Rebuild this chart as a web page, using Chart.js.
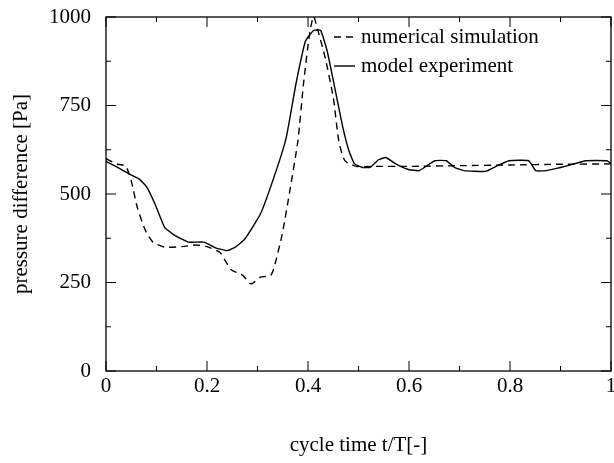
<!DOCTYPE html>
<html>
<head>
<meta charset="utf-8">
<script src="https://cdn.jsdelivr.net/npm/chart.js@4/dist/chart.umd.min.js"></script>
<style>
  body { margin: 0; background: #fff; }
  canvas { display: block; }
</style>
</head>
<body>
<canvas id="pressureChart" width="614" height="463"></canvas>
<script>
// numerical simulation (dashed)
const simTime = [0, 0.023, 0.039, 0.05, 0.062, 0.078, 0.093, 0.116, 0.155, 0.178, 0.198, 0.225, 0.236, 0.248,
  0.271, 0.287, 0.306, 0.326, 0.333, 0.349, 0.364, 0.38, 0.391, 0.403, 0.411, 0.42, 0.434, 0.45, 0.461,
  0.473, 0.496, 0.527, 0.6, 0.7, 0.8, 0.9, 1.0];
const simPressure = [600, 584, 579, 537, 462, 397, 364, 350, 352, 356, 352, 336, 312, 286,
  270, 246, 265, 270, 293, 387, 509, 650, 810, 951, 1002, 960, 885, 773, 650,
  594, 578, 578, 578, 580, 582, 584, 585];

// model experiment (solid)
const expTime = [0, 0.023, 0.047, 0.066, 0.081, 0.097, 0.116, 0.136, 0.163, 0.194, 0.217, 0.24, 0.256, 0.275,
  0.306, 0.337, 0.357, 0.376, 0.395, 0.411, 0.425, 0.438, 0.453, 0.469, 0.481, 0.492, 0.508, 0.523,
  0.539, 0.554, 0.574, 0.597, 0.62, 0.651, 0.674, 0.69, 0.709, 0.752, 0.775, 0.798, 0.837, 0.851,
  0.872, 0.915, 0.95, 0.992, 1.0];
const expPressure = [592, 575, 556, 542, 519, 472, 406, 383, 364, 364, 348, 340, 350, 373,
  444, 566, 660, 810, 932, 962, 962, 904, 800, 688, 622, 585, 575, 575,
  596, 603, 585, 570, 566, 594, 594, 575, 566, 564, 580, 594, 594, 566,
  566, 580, 594, 594, 586];

const xTickValues = [0, 0.2, 0.4, 0.6, 0.8, 1];
const yTickValues = [0, 250, 500, 750, 1000];

const font = 'Liberation Serif';

function toPoints(xs, ys) {
  return xs.map((x, i) => ({ x: x, y: ys[i] }));
}

// frame + inward ticks on all four sides, and the legend inside the plot
const framePlugin = {
  id: 'frame',
  afterDraw(chart) {
    const { ctx, chartArea: a, scales } = chart;
    const xs = scales.x, ys = scales.y;
    ctx.save();
    ctx.strokeStyle = '#000';
    ctx.lineWidth = 1.3;
    ctx.strokeRect(a.left, a.top, a.right - a.left, a.bottom - a.top);

    ctx.lineWidth = 1;
    ctx.beginPath();
    for (let i = 0; i <= 10; i++) {
      const px = xs.getPixelForValue(i / 10);
      const len = i % 2 === 0 ? 10 : 5;
      ctx.moveTo(px, a.bottom); ctx.lineTo(px, a.bottom - len);
      ctx.moveTo(px, a.top); ctx.lineTo(px, a.top + len);
    }
    for (let i = 0; i <= 8; i++) {
      const py = ys.getPixelForValue(i * 125);
      const len = i % 2 === 0 ? 10 : 5;
      ctx.moveTo(a.left, py); ctx.lineTo(a.left + len, py);
      ctx.moveTo(a.right, py); ctx.lineTo(a.right - len, py);
    }
    ctx.stroke();

    // legend
    ctx.font = '21px "' + font + '"';
    ctx.textBaseline = 'middle';
    ctx.fillStyle = '#000';
    chart.data.datasets.forEach((ds, i) => {
      const y = 37 + i * 29;
      ctx.beginPath();
      ctx.lineWidth = ds.borderWidth;
      ctx.setLineDash(ds.borderDash || []);
      ctx.moveTo(334, y);
      ctx.lineTo(355, y);
      ctx.stroke();
      ctx.setLineDash([]);
      ctx.fillText(ds.label, 361, y);
    });
    ctx.restore();
  }
};

new Chart(document.getElementById('pressureChart'), {
  type: 'line',
  data: {
    datasets: [
      {
        label: 'numerical simulation',
        data: toPoints(simTime, simPressure),
        borderColor: '#000',
        borderWidth: 1.4,
        borderDash: [7, 5],
        pointRadius: 0,
        tension: 0.2,
        fill: false
      },
      {
        label: 'model experiment',
        data: toPoints(expTime, expPressure),
        borderColor: '#000',
        borderWidth: 1.4,
        pointRadius: 0,
        tension: 0.12,
        fill: false
      }
    ]
  },
  options: {
    responsive: false,
    animation: false,
    layout: { padding: { top: 17, right: 3, left: 0, bottom: 0 } },
    plugins: {
      legend: { display: false },
      tooltip: { enabled: false }
    },
    scales: {
      x: {
        type: 'linear',
        min: 0,
        max: 1,
        border: { display: false },
        grid: { display: false, drawTicks: false },
        afterBuildTicks: s => { s.ticks = xTickValues.map(v => ({ value: v })); },
        afterFit: s => { s.height = 92; s.paddingLeft = 0; s.paddingRight = 0; },
        ticks: {
          padding: 3,
          maxRotation: 0,
          color: '#000',
          font: { family: font, size: 21 },
          callback: v => String(v)
        },
        title: {
          display: true,
          text: 'cycle time t/T[-]',
          color: '#000',
          font: { family: font, size: 21 },
          padding: { top: 0, bottom: 5 }
        }
      },
      y: {
        min: 0,
        max: 1000,
        border: { display: false },
        grid: { display: false, drawTicks: false },
        afterBuildTicks: s => { s.ticks = yTickValues.map(v => ({ value: v })); },
        afterFit: s => { s.width = 106; s.paddingTop = 0; s.paddingBottom = 0; },
        ticks: {
          padding: 15,
          color: '#000',
          font: { family: font, size: 21 },
          callback: v => String(v)
        },
        title: {
          display: true,
          text: 'pressure difference [Pa]',
          color: '#000',
          font: { family: font, size: 21 },
          padding: { top: 9, bottom: 0 }
        }
      }
    }
  },
  plugins: [framePlugin]
});
</script>
</body>
</html>
